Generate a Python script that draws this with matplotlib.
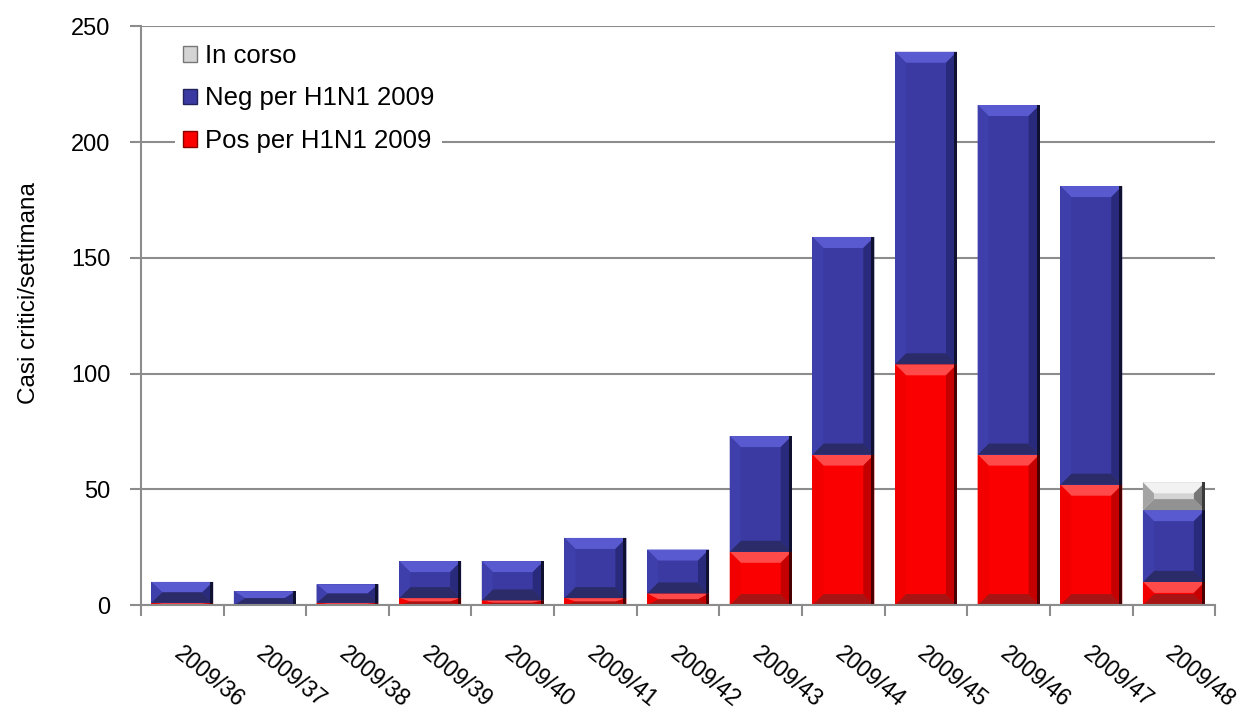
import matplotlib
matplotlib.use("Agg")
import matplotlib.pyplot as plt
from matplotlib.patches import Polygon, Patch
import numpy as np

# Weekly critical cases, split by H1N1 2009 test result
weeks = ["2009/36", "2009/37", "2009/38", "2009/39", "2009/40", "2009/41", "2009/42",
         "2009/43", "2009/44", "2009/45", "2009/46", "2009/47", "2009/48"]
pos_h1n1 = [1, 0, 1, 3, 2, 3, 5, 23, 65, 104, 65, 52, 10]
neg_h1n1 = [9, 6, 8, 16, 17, 26, 19, 50, 94, 135, 151, 129, 31]
in_corso = [0, 0, 0, 0, 0, 0, 0, 0, 0, 0, 0, 0, 12]

series_labels = ["Pos per H1N1 2009", "Neg per H1N1 2009", "In corso"]

# Bevel palettes: base, top, left, right, bottom, right edge
PALETTES = {
    "pos": ("#fb0000", "#ff4a4a", "#f20000", "#c40000", "#a81414", "#4a0000"),
    "neg": ("#3a3aa2", "#5a5ad0", "#3f3fac", "#2a2a7c", "#2b2b6a", "#101030"),
    "corso": ("#d4d4d4", "#f2f2f2", "#a4a4a4", "#767676", "#929292", "#3a3a3a"),
}

FONT = ["Liberation Sans", "DejaVu Sans"]
plt.rcParams["font.family"] = FONT

fig = plt.figure(figsize=(12.58, 7.11), dpi=100)
ax = fig.add_axes([0.112, 0.149, 0.854, 0.814])

n = len(weeks)
x = np.arange(n)
width = 0.75
ax.set_xlim(-0.5, n - 0.5)
ax.set_ylim(0, 250)

# pixel scale for bevel sizes
p0 = ax.transData.transform((0, 0))
p1 = ax.transData.transform((1, 1))
sx = p1[0] - p0[0]
sy = p1[1] - p0[1]
BEVEL_PX = 11
EDGE_PX = 3


def bevel_bar(xc, bottom, height, pal):
    if height <= 0:
        return
    base, top, left, right, bot, edge = pal
    x0, x1 = xc - width / 2, xc + width / 2
    y0, y1 = bottom, bottom + height
    bx = min(BEVEL_PX / sx, width / 2)
    by = min(BEVEL_PX / sy, height / 2)
    ex = EDGE_PX / sx
    ax.add_patch(Polygon([(x0, y0), (x1, y0), (x1, y1), (x0, y1)],
                         closed=True, facecolor=base, edgecolor="none", zorder=3))
    polys = [
        ([(x0, y1), (x1, y1), (x1 - bx, y1 - by), (x0 + bx, y1 - by)], top),
        ([(x0, y0), (x1, y0), (x1 - bx, y0 + by), (x0 + bx, y0 + by)], bot),
        ([(x0, y0), (x0 + bx, y0 + by), (x0 + bx, y1 - by), (x0, y1)], left),
        ([(x1, y0), (x1 - bx, y0 + by), (x1 - bx, y1 - by), (x1, y1)], right),
        ([(x1 - ex, y0), (x1, y0), (x1, y1), (x1 - ex, y1)], edge),
    ]
    for pts, col in polys:
        ax.add_patch(Polygon(pts, closed=True, facecolor=col, edgecolor="none", zorder=3))


for i in range(n):
    b = 0
    bevel_bar(x[i], b, pos_h1n1[i], PALETTES["pos"])
    b += pos_h1n1[i]
    bevel_bar(x[i], b, neg_h1n1[i], PALETTES["neg"])
    b += neg_h1n1[i]
    bevel_bar(x[i], b, in_corso[i], PALETTES["corso"])

# grid and axes styling
grid_col = "#8c8c8c"
ax.set_yticks(np.arange(0, 251, 50))
ax.yaxis.grid(True, color=grid_col, linewidth=1.5, zorder=0)
ax.set_axisbelow(True)
for side in ("top", "right"):
    ax.spines[side].set_visible(False)
for side in ("left", "bottom"):
    ax.spines[side].set_color(grid_col)
    ax.spines[side].set_linewidth(1.5)
    ax.spines[side].set_zorder(4)

ax.tick_params(axis="y", direction="out", length=8, width=1.5, color=grid_col,
               labelsize=17, pad=14)
ax.set_xticks(np.arange(-0.5, n, 1.0))
ax.set_xticklabels([])
ax.tick_params(axis="x", direction="out", length=8, width=1.5, color=grid_col)

# rotated category labels
for i, w in enumerate(weeks):
    ax.annotate(w, xy=(x[i], 0), xycoords="data", xytext=(-4, -33),
                textcoords="offset points", rotation=-39, rotation_mode="anchor",
                ha="left", va="center", fontsize=16.5, annotation_clip=False)

ax.set_ylabel("Casi critici/settimana", fontsize=17.5)
ax.yaxis.set_label_coords(-0.094, 0.539)

handles = [Patch(facecolor=PALETTES["corso"][0], edgecolor="#777777"),
           Patch(facecolor=PALETTES["neg"][0], edgecolor="#22225a"),
           Patch(facecolor=PALETTES["pos"][0], edgecolor="#8a0000")]
leg = ax.legend(handles, [series_labels[2], series_labels[1], series_labels[0]],
                loc="upper left", bbox_to_anchor=(0.02, 1.005), fontsize=18.5,
                frameon=True, handlelength=0.55, handleheight=0.55,
                handletextpad=0.3, labelspacing=0.72, borderpad=0.3)
leg.get_frame().set_edgecolor("none")
leg.get_frame().set_facecolor("white")
leg.get_frame().set_alpha(1.0)
leg.set_zorder(5)

fig.savefig("out.png", dpi=100)
